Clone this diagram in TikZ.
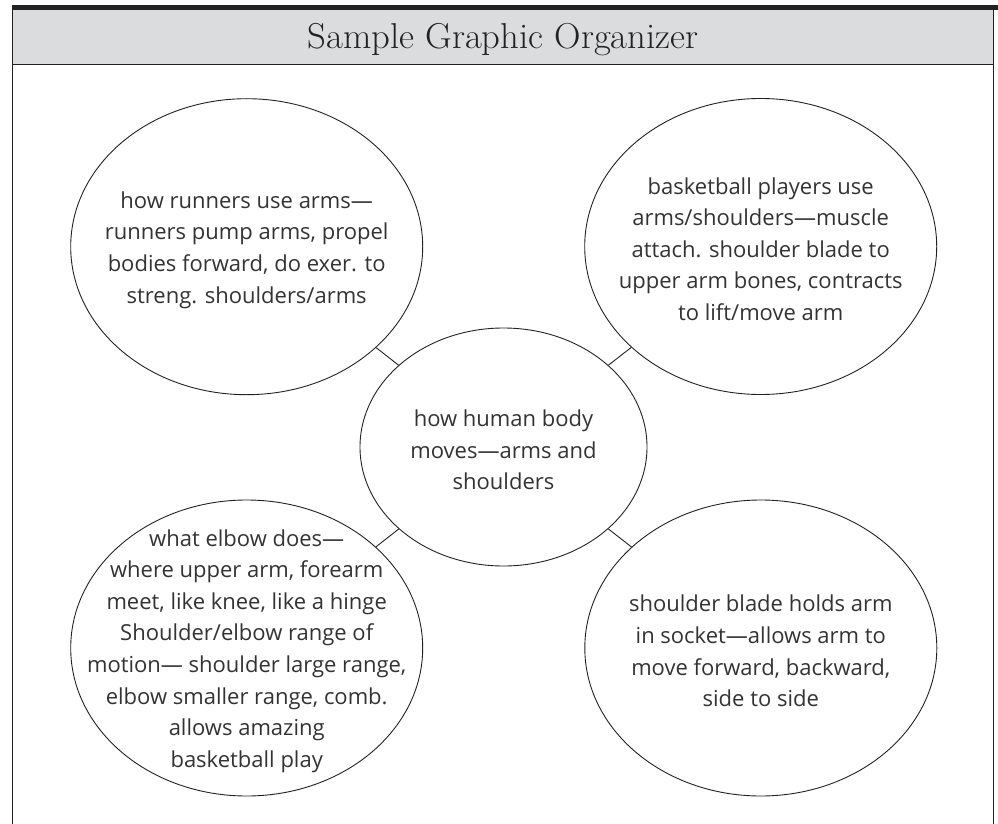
\documentclass[tikz,border=0pt]{standalone}
\usepackage{fontspec}
\newfontfamily\hand{Open Sans}
\usetikzlibrary{shapes.geometric}
\definecolor{headgray}{HTML}{DBDCDE}
\definecolor{ink}{HTML}{333333}
\definecolor{rule}{HTML}{222222}
\begin{document}
\begin{tikzpicture}[x=1pt,y=-1pt,
  bubble/.style={draw=rule, line width=0.9pt, ellipse, minimum width=352pt, minimum height=296pt, inner sep=0pt},
  hub/.style={bubble, minimum width=287pt, minimum height=238pt},
  note/.style={font=\hand\fontsize{22}{31.6}\selectfont, text=ink, align=center, inner sep=0pt},
  link/.style={draw=rule, line width=0.9pt},
  frame/.style={draw=rule, line width=1.6pt},
  titletext/.style={font=\fontsize{36}{40}\selectfont, text=rule, inner sep=0pt}]
\useasboundingbox (0,0) rectangle (998,824);
% header
\fill[headgray] (12.5,10) rectangle (993.5,64.5);
\fill[rule] (12,5) rectangle (998,10);
\draw[frame] (12.5,10) -- (12.5,824);
\draw[frame] (993.5,10) -- (993.5,824);
\draw[frame] (12.5,64.5) -- (993.5,64.5);
\node[titletext] (title) at (503,40) {\scalebox{1.02}[1]{Sample Graphic Organizer}};
% bubbles
\node[hub] (c) at (503.5,447) {};
\node[bubble] (tl) at (246.7,246.7) {};
\node[bubble] (tr) at (760.7,246.5) {};
\node[bubble] (bl) at (246.7,648) {};
\node[bubble] (br) at (760.8,648) {};
% connectors
\draw[link] (c) -- (tl);
\draw[link] (c) -- (tr);
\draw[link] (c) -- (bl);
\draw[link] (c) -- (br);
% texts
\node[note] (ctext) at (503.5,450) {how human body\\moves—arms and\\shoulders};
\node[note] (tltext) at (246.7,250) {how runners use arms—\\runners pump arms, propel\\bodies forward, do exer. to\\streng. shoulders/arms};
\node[note] (trtext) at (760.7,249) {basketball players use\\arms/shoulders—muscle\\attach. shoulder blade to\\upper arm bones, contracts\\to lift/move arm};
\node[note] (bltext) at (246.7,651) {what elbow does—\\where upper arm, forearm\\meet, like knee, like a hinge\\Shoulder/elbow range of\\motion— shoulder large range,\\elbow smaller range, comb.\\allows amazing\\basketball play};
\node[note] (brtext) at (760.8,651) {shoulder blade holds arm\\in socket—allows arm to\\move forward, backward,\\side to side};
\end{tikzpicture}
\end{document}
